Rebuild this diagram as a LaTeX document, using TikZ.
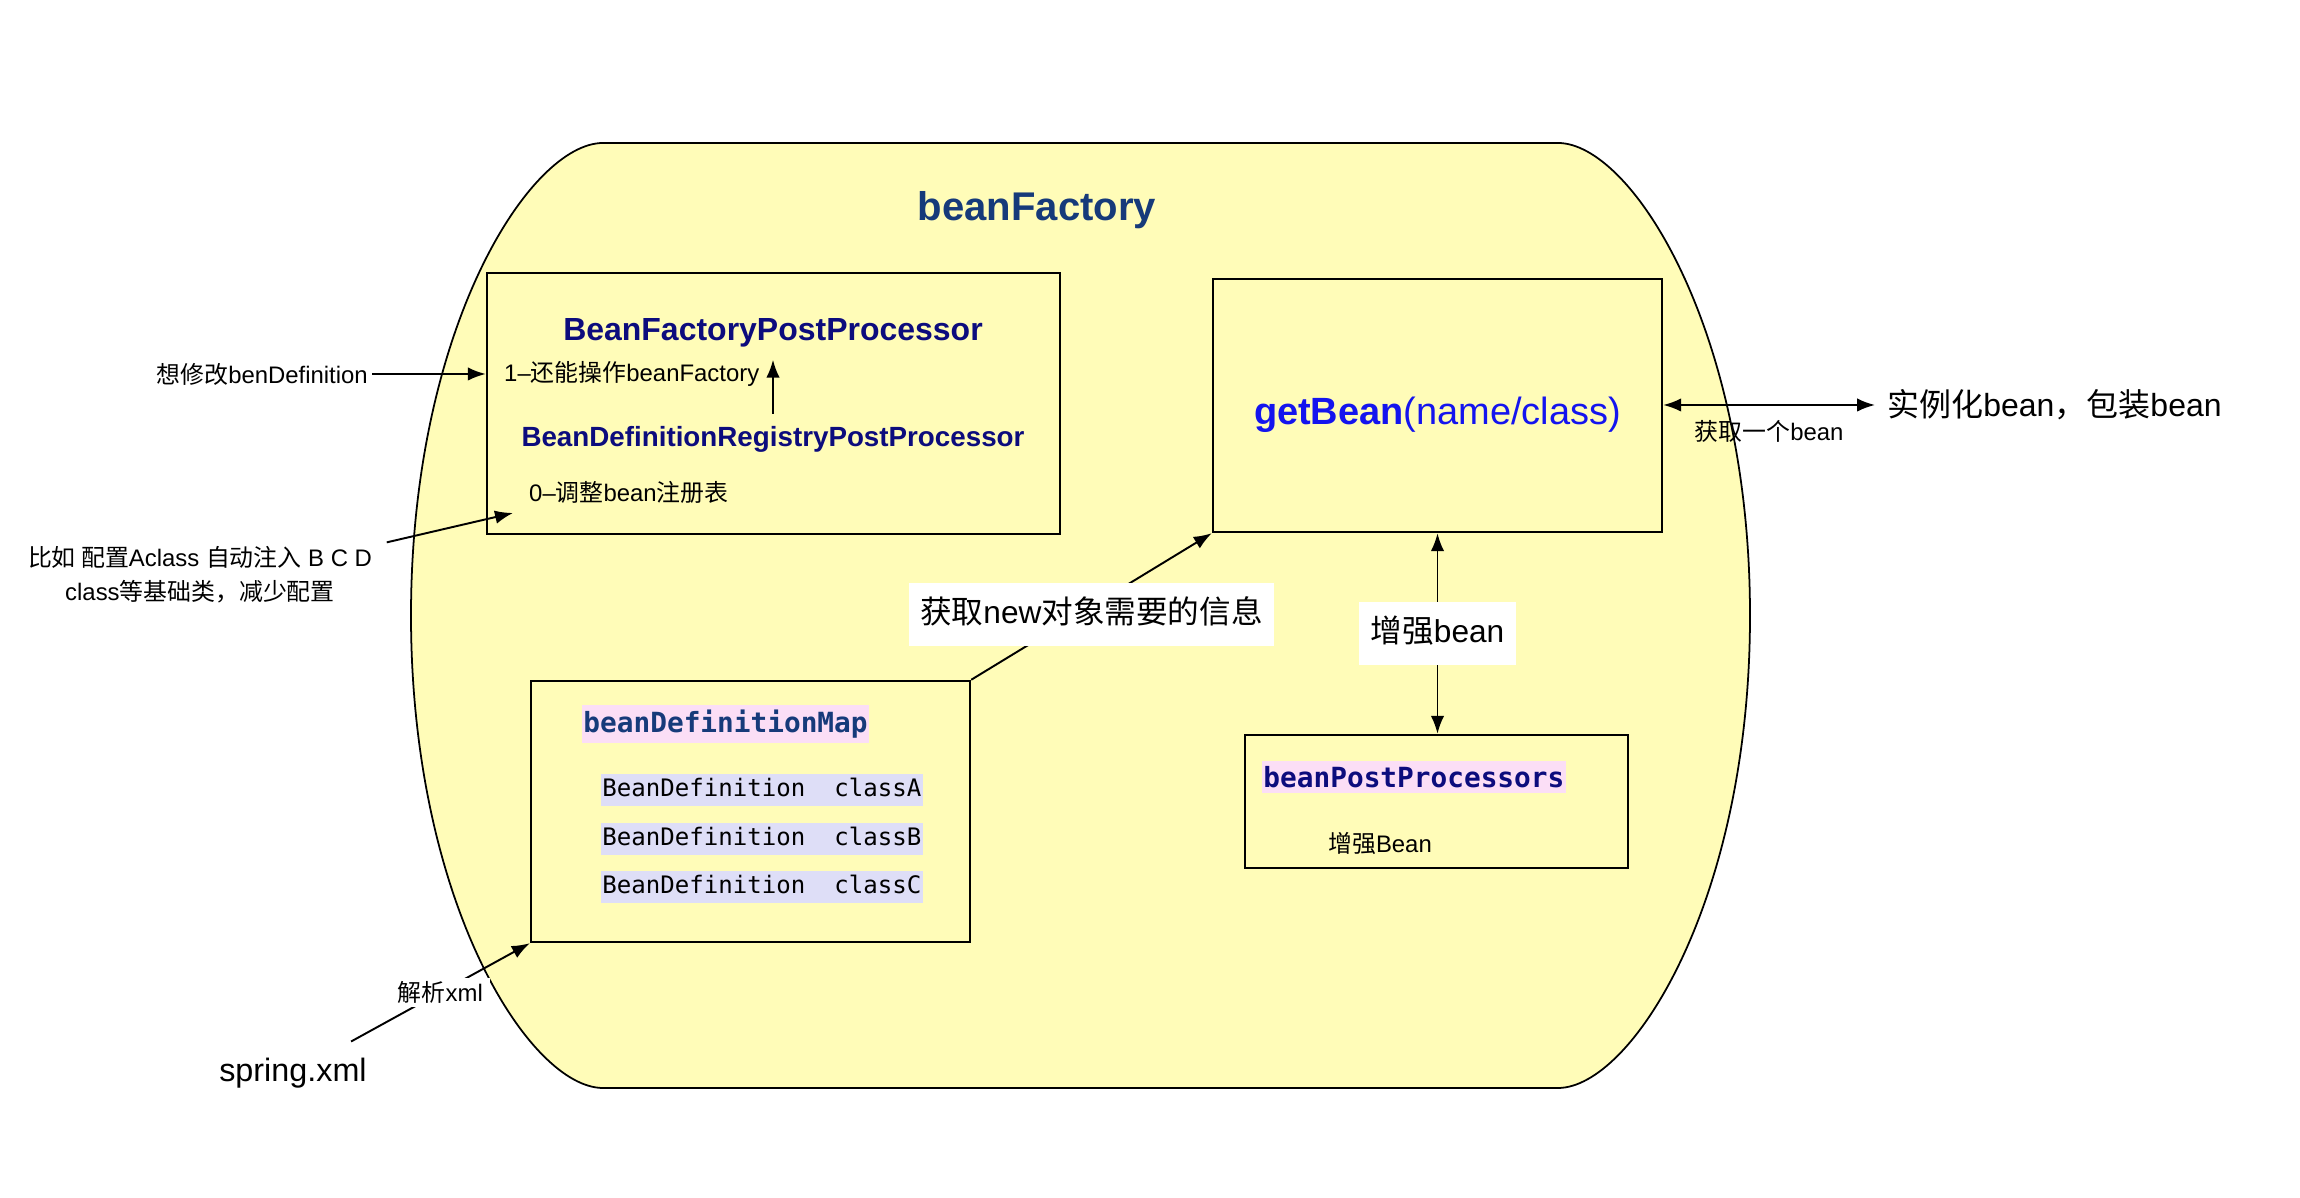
\documentclass[tikz,border=0pt]{standalone}
\usepackage{fontspec}
\setmainfont{Liberation Sans}
\newfontfamily\zhfont{Noto Sans CJK SC}
\newfontfamily\codefont{DejaVu Sans Mono}
\newcommand{\zh}[1]{{\zhfont #1}}
\usetikzlibrary{arrows.meta}
\definecolor{shellyellow}{RGB}{255,252,184}
\definecolor{titleblue}{RGB}{22,58,122}
\definecolor{procblue}{RGB}{12,12,125}
\definecolor{callblue}{RGB}{20,20,238}
\definecolor{mappink}{RGB}{251,222,246}
\definecolor{rowlilac}{RGB}{222,222,247}

\begin{document}
\begin{tikzpicture}[
    box/.style={draw, line width=0.7pt, fill=shellyellow, inner sep=0pt},
    small/.style={font=\fontsize{6.8}{9.7}\selectfont, inner sep=1pt},
    tag/.style={font=\fontsize{9}{11}\selectfont, fill=white, inner xsep=3.3pt, inner ysep=4.4pt, text height=7.2pt, text depth=1.8pt},
    arr/.style={-{Latex[length=1.8mm,width=1.35mm]}, line width=0.55pt},
    darr/.style={{Latex[length=1.8mm,width=1.35mm]}-{Latex[length=1.8mm,width=1.35mm]}, line width=0.55pt},
    codetitle/.style={font=\codefont\bfseries\fontsize{7.9}{9}\selectfont, fill=mappink, inner xsep=0.5pt, inner ysep=1.5pt, anchor=west},
    coderow/.style={font=\codefont\fontsize{6.85}{8}\selectfont, fill=rowlilac, inner xsep=0.5pt, inner ysep=1.2pt, text height=5.3pt, text depth=1.5pt, anchor=west},
  ]
  \def\lx{6.03};
  \def\rx{15.58};
  \def\top{10.55};
  \def\bot{1.10};
  \def\mid{5.825};
  \useasboundingbox (0,0) rectangle (23,11.98);
  %outer shell
  \filldraw[fill=shellyellow, line width=0.5pt] (\lx,\top) -- (\rx,\top)
    .. controls (16.31,\top) and (17.50,8.7) .. (17.50,\mid)
    .. controls (17.50,2.95) and (16.31,\bot) .. (\rx,\bot)
    -- (\lx,\bot)
    .. controls (5.30,\bot) and (4.11,2.95) .. (4.11,\mid)
    .. controls (4.11,8.7) and (5.30,\top) .. cycle;
  \node[font=\bfseries\fontsize{11.4}{13}\selectfont, text=titleblue] (factory) at (10.37,9.88) {beanFactory};
  %post processors of the factory
  \node[box, minimum width=5.73cm, minimum height=2.61cm] (bfpp) at (7.735,7.945) {};
  \node[font=\bfseries\fontsize{9.1}{11}\selectfont, text=procblue] (bfppname) at (7.73,8.65) {BeanFactoryPostProcessor};
  \node[small, anchor=west] (opfactory) at (5.00,8.24) {1--\zh{还能操作}beanFactory};
  \node[font=\bfseries\fontsize{7.9}{9.5}\selectfont, text=procblue] (bdrpp) at (7.73,7.59) {BeanDefinitionRegistryPostProcessor};
  \node[small, anchor=west] (adjreg) at (5.25,7.06) {0--\zh{调整}bean\zh{注册表}};
  \draw[arr] (bdrpp.north) -- (bdrpp.north |- bfppname.south);
  \node[small, anchor=east] (wantmod) at (3.72,8.24) {\zh{想修改}benDefinition};
  \draw[arr] (wantmod) -- (bfpp.west |- wantmod);
  \node[small, align=center] (example) at (2.0,6.23) {\zh{比如 配置}Aclass \zh{自动注入} B C D\\class\zh{等基础类，减少配置}};
  \coordinate (regin) at (5.13,6.85);
  \draw[arr] ([xshift=3pt]example.north east) -- (regin);
  %getBean
  \node[box, minimum width=4.49cm, minimum height=2.53cm] (getbean) at (14.375,7.925) {};
  \node[text=callblue, font=\fontsize{10.8}{13}\selectfont] (getbeanname) at (14.375,7.83) {\textbf{getBean}(name/class)};
  \node[font=\fontsize{9.1}{11}\selectfont, anchor=west] (inst) at (18.75,7.93) {\zh{实例化}bean\zh{，包装}bean};
  \draw[darr] (getbean.east |- inst.west) -- node[small, below=3pt] (getone) {\zh{获取一个}bean} (inst.west);
  %bean definitions
  \node[box, minimum width=4.39cm, minimum height=2.61cm] (defmap) at (7.505,3.865) {};
  \node[codetitle, text=titleblue] (maptitle) at (5.81,4.74) {beanDefinitionMap};
  \node[coderow] (defA) at (6.00,4.08) {BeanDefinition\ \ classA};
  \node[coderow] (defB) at (6.00,3.59) {BeanDefinition\ \ classB};
  \node[coderow] (defC) at (6.00,3.11) {BeanDefinition\ \ classC};
  \draw[arr] (defmap.north east) -- node[tag, yshift=-0.08cm] (newinfo) {\zh{获取}new\zh{对象需要的信息}} (getbean.south west);
  %bean post processors
  \node[box, minimum width=3.83cm, minimum height=1.33cm] (bpp) at (14.365,3.965) {};
  \node[codetitle, text=procblue] (bpptitle) at (12.61,4.21) {beanPostProcessors};
  \node[small] (enhance) at (13.80,3.55) {\zh{增强}Bean};
  \draw[darr] (getbean.south) -- node[tag] (enhbean) {\zh{增强}bean} (getbean.south |- bpp.north);
  %xml source
  \node[font=\fontsize{9.2}{11}\selectfont] (springxml) at (2.93,1.25) {spring.xml};
  \draw[arr] ([xshift=-0.28cm,yshift=0.04cm]springxml.north east) -- node[small, fill=white, inner xsep=2pt] (parse) {\zh{解析}xml} (defmap.south west);
\end{tikzpicture}
\end{document}
